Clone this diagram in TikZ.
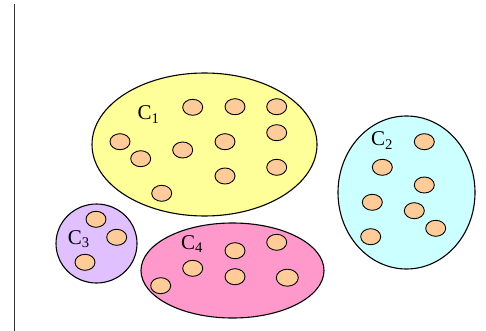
\documentclass[tikz,border=0pt]{standalone}
\usepackage{fontspec}
\setmainfont{Liberation Serif}
\usepackage{tikz}
\usetikzlibrary{positioning, shapes}
\definecolor{clyellow}{RGB}{255,255,153}
\definecolor{clcyan}{RGB}{204,255,255}
\definecolor{cllilac}{RGB}{224,192,255}
\definecolor{clpink}{RGB}{255,153,204}
\definecolor{peach}{RGB}{255,204,153}
\tikzset{
  cl/.style={draw, line width=1.1pt},
  pt/.style={ellipse, draw, fill=peach, line width=0.9pt, minimum width=20pt, minimum height=16pt, inner sep=0pt},
  lab/.style={anchor=base west, inner sep=0pt, font=\fontsize{21}{21}\selectfont}}

\begin{document}
\begin{tikzpicture}[x=1pt,y=-1pt]
\useasboundingbox (0,0) rectangle (486,331);
\coordinate (top) at (14.5,4);
\coordinate (bot) at (14.5,331);
\draw [line width=1.3pt, black!80] (top) -- (bot);
% clusters
\coordinate (c1) at (204.5,144.5);
\coordinate (c2) at (406.5,192.5);
\coordinate (c3) at (96.5,243.5);
\coordinate (c4) at (232.5,270.5);
\draw [cl, fill=clyellow] (c1) ellipse (112.5 and 71.5);
\draw [cl, fill=clcyan] (c2) ellipse (68.5 and 76.5);
\draw [cl, fill=cllilac] (c3) ellipse (40.5 and 39.5);
\draw [cl, fill=clpink] (c4) ellipse (91.5 and 47.5);
\node [lab] (l1) at (137.3,120) {C\textsubscript{1}};
\node [lab] (l2) at (371,146) {C\textsubscript{2}};
\node [lab] (l3) at (67.7,244) {C\textsubscript{3}};
\node [lab] (l4) at (181,249) {C\textsubscript{4}};
% points in C1
\node [pt] (a1) at (192.7,107.3) {};
\node [pt] (a2) at (235,106.7) {};
\node [pt] (a3) at (276.7,106.7) {};
\node [pt] (a4) at (276.7,132.7) {};
\node [pt] (a5) at (120,141.7) {};
\node [pt] (a6) at (225,141.7) {};
\node [pt] (a7) at (182.7,150) {};
\node [pt] (a8) at (140.7,158.7) {};
\node [pt] (a9) at (276.7,167.3) {};
\node [pt] (a10) at (225,176) {};
\node [pt] (a11) at (161.7,193.3) {};
% points in C2
\node [pt] (b1) at (424.3,141.7) {};
\node [pt] (b2) at (382.3,167.3) {};
\node [pt] (b3) at (424.3,185) {};
\node [pt] (b4) at (372.3,202.3) {};
\node [pt] (b5) at (414.3,210.7) {};
\node [pt] (b6) at (435.7,228.3) {};
\node [pt] (b7) at (370.7,236.7) {};
% points in C3
\node [pt] (d1) at (96,219.3) {};
\node [pt] (d2) at (116.7,237.3) {};
\node [pt] (d3) at (85,262.3) {};
% points in C4
\node [pt] (e1) at (276.7,242.3) {};
\node [pt] (e2) at (235,250.7) {};
\node [pt] (e3) at (192.7,268.3) {};
\node [pt] (e4) at (235,276.7) {};
\node [pt, minimum width=22pt, minimum height=17pt] (e5) at (287.3,277.7) {};
\node [pt] (e6) at (160.7,285.7) {};
\end{tikzpicture}
\end{document}
